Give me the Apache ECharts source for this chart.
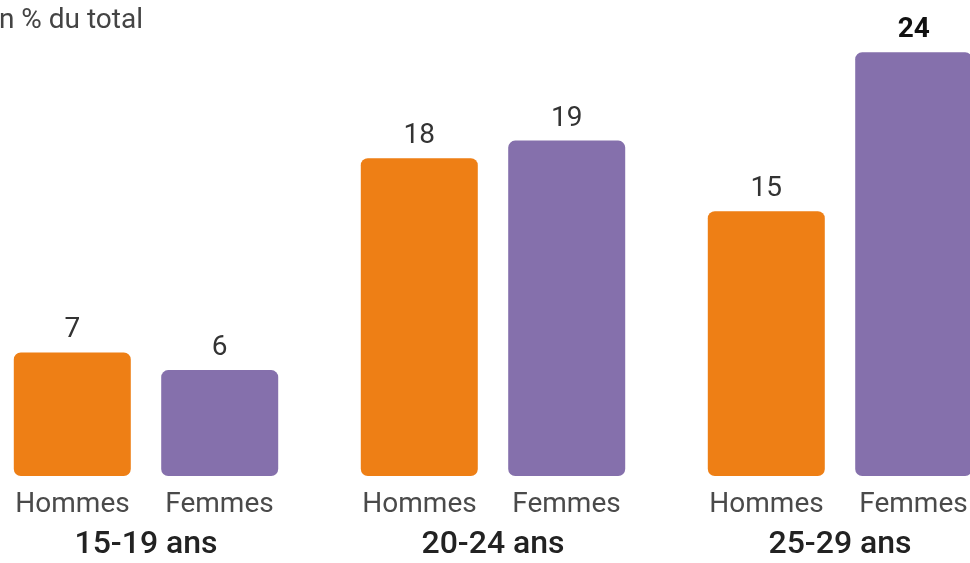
<!DOCTYPE html>
<html><head><meta charset="utf-8">
<script src="https://cdn.jsdelivr.net/npm/echarts@6/dist/echarts.min.js"></script>
<style>html,body{margin:0;padding:0;background:#fff}#c{width:970px;height:563px}</style>
</head><body><div id="c"></div>
<script>
const ageGroups = ['15-19 ans', '20-24 ans', '25-29 ans'];
const seriesNames = ['Hommes', 'Femmes'];
const hommes = [7, 18, 15];
const femmes = [6, 19, 24];
const unitLabel = 'En % du total';

const chart = echarts.init(document.getElementById('c'));
const FONT = 'Roboto';
chart.setOption({
  animation: false,
  backgroundColor: '#fff',
  graphic: [{
    type: 'text', left: -17, top: 7,
    style: { text: unitLabel, font: '28px Roboto', fill: '#444' }
  }],
  grid: { left: -27.5, right: -43.5, top: 17, bottom: 87, outerBoundsMode: 'none', containLabel: false },
  xAxis: {
    type: 'category', data: ageGroups,
    axisLine: { show: false }, axisTick: { show: false },
    axisLabel: {
      margin: 10, interval: 0,
      formatter: v => '{h|' + seriesNames[0] + '}{f|' + seriesNames[1] + '}\n{a|' + v + '}',
      rich: {
        h: { width: 147, align: 'center', fontFamily: FONT, fontSize: 28, color: '#4a4a4a', lineHeight: 38 },
        f: { width: 147, align: 'center', fontFamily: FONT, fontSize: 28, color: '#4a4a4a', lineHeight: 38 },
        a: { fontFamily: FONT, fontSize: 32, fontWeight: 500, color: '#222', lineHeight: 42 }
      }
    }
  },
  yAxis: { type: 'value', min: 0, max: 26, show: false, splitLine: { show: false } },
  series: [
    {
      name: seriesNames[0], type: 'bar', data: hommes, barWidth: 117, barGap: '26%',
      itemStyle: { color: '#EE7F15', borderRadius: 7 },
      label: { show: true, position: 'top', distance: 8, fontFamily: FONT, fontSize: 28, color: '#333' }
    },
    {
      name: seriesNames[1], type: 'bar', barWidth: 117, barGap: '26%',
      data: femmes.map((v, i) => i === 2 ? { value: v, label: { fontWeight: 'bold', color: '#111' } } : v),
      itemStyle: { color: '#8570AC', borderRadius: 7 },
      label: { show: true, position: 'top', distance: 8, fontFamily: FONT, fontSize: 28, color: '#333' }
    }
  ]
});
</script></body></html>
